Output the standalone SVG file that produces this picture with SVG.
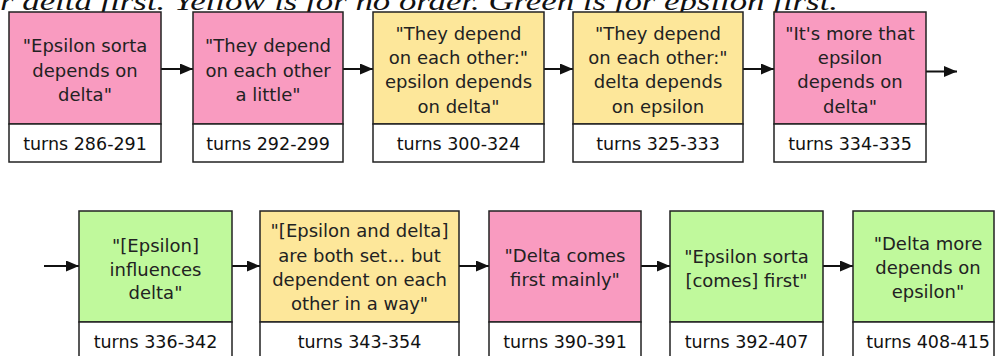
<svg xmlns="http://www.w3.org/2000/svg" width="995" height="356" viewBox="0 0 995 356">
<defs>
<style>
.cap{font-family:"Liberation Serif","Times New Roman",serif;font-style:italic;font-size:25px;fill:#111}
.q{font-family:"DejaVu Sans","Liberation Sans",sans-serif;font-size:18px;fill:#222;text-anchor:middle}
.t{font-family:"DejaVu Sans","Liberation Sans",sans-serif;font-size:17.5px;fill:#111;text-anchor:middle}
.box{stroke:#222;stroke-width:1.5}
.pink{fill:#F99BC0}
.yellow{fill:#FDE79A}
.green{fill:#C0F99C}
.white{fill:#fff}
.arr{stroke:#111;stroke-width:2;fill:none;marker-end:url(#ah)}
</style>
<marker id="ah" viewBox="0 0 13 11" refX="13" refY="5.5" markerWidth="13" markerHeight="11" markerUnits="userSpaceOnUse" orient="auto">
<path d="M0,0 L13,5.5 L0,11 Z" fill="#111"/>
</marker>
</defs>
<rect width="995" height="356" fill="#fff"/>
<text class="cap" x="0" y="10" textLength="838" lengthAdjust="spacingAndGlyphs">r delta first. Yellow is for no order. Green is for epsilon first.</text>

<g id="connectors">
<line class="arr" x1="161" y1="69" x2="193" y2="69"/>
<line class="arr" x1="343" y1="69" x2="373" y2="69"/>
<line class="arr" x1="544" y1="69" x2="573" y2="69"/>
<line class="arr" x1="743" y1="69" x2="774" y2="69"/>
<line class="arr" x1="926" y1="71.5" x2="957" y2="71.5"/>
<line class="arr" x1="44" y1="266" x2="79" y2="266"/>
<line class="arr" x1="232" y1="266" x2="260" y2="266"/>
<line class="arr" x1="459" y1="266" x2="489" y2="266"/>
<line class="arr" x1="641" y1="266" x2="670" y2="266"/>
<line class="arr" x1="823" y1="266" x2="853" y2="266"/>
</g>

<g id="n1">
<rect class="box pink" x="9" y="12" width="152" height="112"/>
<rect class="box white" x="9" y="124" width="152" height="38"/>
<text class="q" x="85" y="52">"Epsilon sorta</text>
<text class="q" x="85" y="77">depends on</text>
<text class="q" x="85" y="101">delta"</text>
<text class="t" x="85" y="150">turns 286-291</text>
</g>
<g id="n2">
<rect class="box pink" x="193" y="12" width="150" height="112"/>
<rect class="box white" x="193" y="124" width="150" height="38"/>
<text class="q" x="268" y="52">"They depend</text>
<text class="q" x="268" y="77">on each other</text>
<text class="q" x="268" y="101">a little"</text>
<text class="t" x="268" y="150">turns 292-299</text>
</g>
<g id="n3">
<rect class="box yellow" x="373" y="12" width="171" height="112"/>
<rect class="box white" x="373" y="124" width="171" height="38"/>
<text class="q" x="458.5" y="40">"They depend</text>
<text class="q" x="458.5" y="64">on each other:"</text>
<text class="q" x="458.5" y="88">epsilon depends</text>
<text class="q" x="458.5" y="113">on delta"</text>
<text class="t" x="458.5" y="150">turns 300-324</text>
</g>
<g id="n4">
<rect class="box yellow" x="573" y="12" width="170" height="112"/>
<rect class="box white" x="573" y="124" width="170" height="38"/>
<text class="q" x="658" y="40">"They depend</text>
<text class="q" x="658" y="64">on each other:"</text>
<text class="q" x="658" y="88">delta depends</text>
<text class="q" x="658" y="113">on epsilon</text>
<text class="t" x="658" y="150">turns 325-333</text>
</g>
<g id="n5">
<rect class="box pink" x="774" y="12" width="152" height="112"/>
<rect class="box white" x="774" y="124" width="152" height="38"/>
<text class="q" x="850" y="40">"It's more that</text>
<text class="q" x="850" y="64">epsilon</text>
<text class="q" x="850" y="88">depends on</text>
<text class="q" x="850" y="113">delta"</text>
<text class="t" x="850" y="150">turns 334-335</text>
</g>

<g id="n6">
<rect class="box green" x="79" y="211" width="153" height="111"/>
<rect class="box white" x="79" y="322" width="153" height="40"/>
<text class="q" x="155.5" y="252">"[Epsilon]</text>
<text class="q" x="155.5" y="276">influences</text>
<text class="q" x="155.5" y="299">delta"</text>
<text class="t" x="155.5" y="348">turns 336-342</text>
</g>
<g id="n7">
<rect class="box yellow" x="260" y="211" width="199" height="111"/>
<rect class="box white" x="260" y="322" width="199" height="40"/>
<text class="q" x="359.5" y="237">"[Epsilon and delta]</text>
<text class="q" x="359.5" y="262">are both set… but</text>
<text class="q" x="359.5" y="286">dependent on each</text>
<text class="q" x="359.5" y="310">other in a way"</text>
<text class="t" x="359.5" y="348">turns 343-354</text>
</g>
<g id="n8">
<rect class="box pink" x="489" y="211" width="152" height="111"/>
<rect class="box white" x="489" y="322" width="152" height="40"/>
<text class="q" x="565" y="262">"Delta comes</text>
<text class="q" x="565" y="286">first mainly"</text>
<text class="t" x="565" y="348">turns 390-391</text>
</g>
<g id="n9">
<rect class="box green" x="670" y="211" width="153" height="111"/>
<rect class="box white" x="670" y="322" width="153" height="40"/>
<text class="q" x="746.5" y="263">"Epsilon sorta</text>
<text class="q" x="746.5" y="287">[comes] first"</text>
<text class="t" x="746.5" y="348">turns 392-407</text>
</g>
<g id="n10">
<rect class="box green" x="853" y="211" width="141" height="111"/>
<rect class="box white" x="853" y="322" width="141" height="40"/>
<text class="q" x="928" y="250">"Delta more</text>
<text class="q" x="928" y="274">depends on</text>
<text class="q" x="928" y="298">epsilon"</text>
<text class="t" x="928" y="348">turns 408-415</text>
</g>
</svg>
